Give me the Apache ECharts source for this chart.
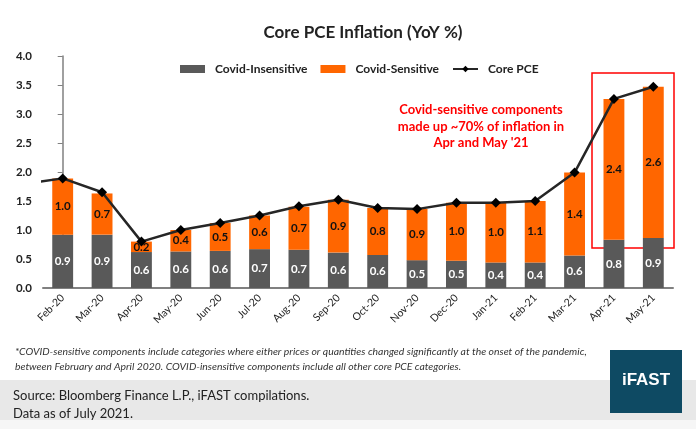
<!DOCTYPE html>
<html>
<head>
<meta charset="utf-8">
<script src="https://cdn.jsdelivr.net/npm/echarts@6/dist/echarts.min.js"></script>
<style>
  html, body { margin: 0; padding: 0; background: #fff; }
  #chart { width: 696px; height: 429px; }
</style>
</head>
<body>
<div id="chart"></div>
<script>
const months = ['Feb-20', 'Mar-20', 'Apr-20', 'May-20', 'Jun-20', 'Jul-20', 'Aug-20', 'Sep-20',
  'Oct-20', 'Nov-20', 'Dec-20', 'Jan-21', 'Feb-21', 'Mar-21', 'Apr-21', 'May-21']
const insensitive = [0.92, 0.92, 0.62, 0.63, 0.64, 0.67, 0.66, 0.61, 0.57, 0.48, 0.47, 0.44, 0.44, 0.56, 0.83, 0.86]
const sensitive = [0.97, 0.71, 0.18, 0.37, 0.48, 0.58, 0.74, 0.91, 0.81, 0.88, 1.0, 1.03, 1.06, 1.43, 2.43, 2.61]
const corePce = [1.89, 1.65, 0.80, 1.0, 1.12, 1.25, 1.41, 1.52, 1.38, 1.36, 1.47, 1.47, 1.50, 1.99, 3.26, 3.47]
const corePrev = 1.79 // Jan-20, only the lead-in segment is visible
const yTicks = [0, 0.5, 1.0, 1.5, 2.0, 2.5, 3.0, 3.5, 4.0]

const font = 'Lato, "Open Sans", sans-serif'
const chart = echarts.init(document.getElementById('chart'))

const lineData = [{ value: [-1, corePrev], symbol: 'none' }]
corePce.forEach((v, i) => lineData.push([i, v]))

const option = {
  backgroundColor: '#fff',
  animation: false,
  title: {
    text: 'Core PCE Inflation (YoY %)',
    left: 358,
    textAlign: 'center',
    top: 19,
    textStyle: { fontFamily: font, fontSize: 17, fontWeight: 'bold', color: '#222' }
  },
  legend: {
    top: 58,
    left: 175,
    itemWidth: 25,
    itemHeight: 8,
    itemGap: 13,
    textStyle: { fontFamily: font, fontSize: 12, fontWeight: 'bold', color: '#222', padding: [0, 0, 0, 5] },
    data: [
      { name: 'Covid-Insensitive', icon: 'rect' },
      { name: 'Covid-Sensitive', icon: 'rect' },
      { name: 'Core PCE' }
    ]
  },
  grid: { left: 43, right: 23, top: 56, bottom: 141 },
  xAxis: [
    {
      type: 'category',
      data: months,
      axisTick: { show: false },
      axisLine: { lineStyle: { color: '#808080', width: 2 } },
      axisLabel: { rotate: 45, fontFamily: font, fontSize: 10.5, color: '#222', margin: 8, interval: 0 }
    },
    { type: 'value', min: -0.5, max: 15.5, show: false }
  ],
  yAxis: {
    type: 'value',
    min: 0,
    max: 4,
    interval: 0.5,
    splitLine: { show: false },
    axisLine: { show: true, lineStyle: { color: '#808080', width: 1.5 } },
    axisLabel: {
      fontFamily: font, fontSize: 11.5, fontWeight: 'bold', color: '#222', margin: 11,
      formatter: v => yTicks.includes(v) ? v.toFixed(1) : ''
    }
  },
  series: [
    {
      name: 'Covid-Insensitive',
      type: 'bar',
      stack: 'pce',
      data: insensitive,
      barWidth: '53%',
      itemStyle: { color: '#595959' },
      label: {
        show: true, position: 'inside', color: '#fff', fontFamily: font, fontSize: 11.5, fontWeight: 'bold',
        formatter: p => p.value.toFixed(1)
      }
    },
    {
      name: 'Covid-Sensitive',
      type: 'bar',
      stack: 'pce',
      data: sensitive,
      itemStyle: { color: '#ff6600' },
      label: {
        show: true, position: 'inside', color: '#111', fontFamily: font, fontSize: 11.5, fontWeight: 'bold',
        formatter: p => p.value.toFixed(1)
      }
    },
    {
      name: 'Core PCE',
      type: 'line',
      xAxisIndex: 1,
      data: lineData,
      clip: true,
      symbol: 'diamond',
      symbolSize: 10,
      lineStyle: { color: '#262626', width: 2.5 },
      itemStyle: { color: '#000' },
      z: 5
    }
  ],
  graphic: [
    { type: 'rect', shape: { x: 0, y: 380, width: 696, height: 40 }, style: { fill: '#e8e8e8' }, z: -1 },
    { type: 'rect', shape: { x: 0, y: 420, width: 696, height: 9 }, style: { fill: '#f6f6f6' }, z: -1 },
    { type: 'rect', shape: { x: 592, y: 73, width: 82, height: 175 }, style: { fill: 'none', stroke: '#ff0000', lineWidth: 1.5 } },
    {
      type: 'text', x: 481, y: 102,
      style: {
        text: 'Covid-sensitive components\nmade up ~70% of inflation in\nApr and May \'21',
        align: 'center', fill: '#ff0000', font: 'bold 13px ' + font, lineHeight: 16.5
      }
    },
    {
      type: 'text', x: 15, y: 344,
      style: {
        text: '*COVID-sensitive components include categories where either prices or quantities changed significantly at the onset of the pandemic,\nbetween February and April 2020. COVID-insensitive components include all other core PCE categories.',
        fill: '#333', font: 'italic 10.4px ' + font, lineHeight: 15
      }
    },
    {
      type: 'text', x: 13, y: 387,
      style: {
        text: 'Source: Bloomberg Finance L.P., iFAST compilations.\nData as of July 2021.',
        fill: '#222', font: '13px ' + font, lineHeight: 18
      }
    },
    { type: 'rect', shape: { x: 610, y: 350, width: 72, height: 63 }, style: { fill: '#0e4a63' } },
    {
      type: 'text', x: 646, y: 372,
      style: { text: 'iFAST', align: 'center', fill: '#fff', font: 'bold 17px "Liberation Sans", Arial, sans-serif' }
    }
  ]
}

chart.setOption(option)
</script>
</body>
</html>
